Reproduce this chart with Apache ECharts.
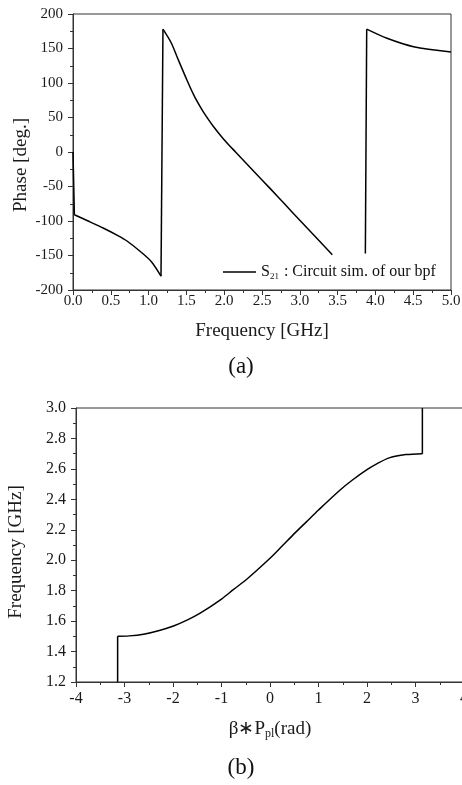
<!DOCTYPE html>
<html><head><meta charset="utf-8">
<script src="https://cdn.jsdelivr.net/npm/echarts@6/dist/echarts.min.js"></script>
<style>html,body{margin:0;padding:0;background:#fff}#c{width:462px;height:785px}</style>
</head><body><div id="c"></div>
<script>
// Panel (a): S21 phase vs frequency
const freqA  = [0, 0.018, 0.2, 0.405, 0.6, 0.714, 0.91, 1.045, 1.164, 1.19, 1.3, 1.376, 1.508, 1.6, 1.68, 1.73, 1.85, 1.99, 2.15, 2.4, 2.6, 2.8, 3.0, 3.2, 3.43, 3.65, 3.867, 3.885, 4.153, 4.505, 5.0];
const phaseA = [0, -91, -100, -110.5, -121.5, -129, -146, -160, -180, 178, 158, 138, 104, 82, 66, 57, 38, 19, 0, -29, -52, -75.5, -99, -122, -149, null, -147, 178, 164.8, 152.6, 145];
const seriesNameA = 'S21 : Circuit sim. of our bpf';
const xTicksA = [0, 5, 0.5];
const yTicksA = [-200, 200, 50];

// Panel (b): dispersion diagram
const betaB = [-3.1416, -3.1416, -2.9, -2.61, -2.3, -1.99, -1.7, -1.44, -1.0, -0.75, -0.48, 0, 0.25, 0.48, 0.75, 1.0, 1.44, 1.7, 2.0, 2.2, 2.47, 2.8, 3.1416, 3.1416];
const freqB = [1.2, 1.5, 1.503, 1.514, 1.537, 1.568, 1.608, 1.652, 1.745, 1.808, 1.875, 2.013, 2.093, 2.168, 2.252, 2.33, 2.46, 2.527, 2.595, 2.633, 2.674, 2.694, 2.70, 3.0];
const xTicksB = [-4, 4, 1];
const yTicksB = [1.2, 3.0, 0.2];

const F = 'Liberation Serif';
const AX = '#333';
const TXT = '#1a1a1a';

// split a polyline into smooth runs and straight steep steps (jumps / verticals)
function splitRuns(xs, ys, steep) {
  const runs = [];
  let cur = [];
  for (let i = 0; i < xs.length; i++) {
    if (ys[i] === null) { if (cur.length > 1) runs.push({smooth: true, pts: cur}); cur = []; continue; }
    if (cur.length) {
      const p = cur[cur.length - 1];
      const dx = xs[i] - p[0], dy = ys[i] - p[1];
      if (dx === 0 || Math.abs(dy / dx) > steep) {
        if (cur.length > 1) runs.push({smooth: true, pts: cur});
        runs.push({smooth: false, pts: [p, [xs[i], ys[i]]]});
        cur = [[xs[i], ys[i]]];
        continue;
      }
    }
    cur.push([xs[i], ys[i]]);
  }
  if (cur.length > 1) runs.push({smooth: true, pts: cur});
  return runs;
}

function axisBase(min, max, interval, fmt, pos, margin, fs) {
  return {
    type: 'value', min: min, max: max, interval: interval, position: pos,
    axisLine: {show: true, onZero: false, lineStyle: {color: AX, width: 1}},
    axisTick: {show: true, inside: false, length: 5, lineStyle: {color: AX}},
    minorTick: {show: true, splitNumber: 2, length: 3, lineStyle: {color: AX}},
    splitLine: {show: false},
    axisLabel: {fontFamily: F, fontSize: fs, color: TXT, margin: margin, formatter: fmt, showMaxLabel: true, showMinLabel: true},
    nameTextStyle: {fontFamily: F, fontSize: 19, color: TXT}
  };
}

const series = [];
splitRuns(freqA, phaseA, 2000).forEach(r => series.push({
  name: seriesNameA, type: 'line', xAxisIndex: 0, yAxisIndex: 0, data: r.pts, symbol: 'none',
  smooth: r.smooth ? 0.3 : false, lineStyle: {color: '#000', width: 1.5}, itemStyle: {color: '#000'}
}));
splitRuns(betaB, freqB, 1000).forEach(r => series.push({
  name: 'dispersion', type: 'line', xAxisIndex: 1, yAxisIndex: 1, data: r.pts, symbol: 'none',
  smooth: r.smooth ? 0.3 : false, lineStyle: {color: '#000', width: 1.5}, itemStyle: {color: '#000'}
}));

const option = {
  backgroundColor: '#fff',
  animation: false,
  grid: [
    {left: 73, right: 11, top: 14, bottom: 495, show: true, borderColor: AX, borderWidth: 1, outerBoundsMode: 'none', containLabel: false},
    {left: 76, right: -2, top: 408, bottom: 103, show: true, borderColor: AX, borderWidth: 1, outerBoundsMode: 'none', containLabel: false}
  ],
  xAxis: [
    Object.assign(axisBase(xTicksA[0], xTicksA[1], xTicksA[2], v => v.toFixed(1), 'bottom', 4, 15),
      {gridIndex: 0, name: 'Frequency [GHz]', nameLocation: 'middle', nameGap: 32}),
    Object.assign(axisBase(xTicksB[0], xTicksB[1], xTicksB[2], v => String(v), 'bottom', 9, 16),
      {gridIndex: 1, name: '{a|β∗P}{s|pl}{a|(rad)}', nameLocation: 'middle', nameGap: 36,
       nameTextStyle: {fontFamily: F, fontSize: 19, color: TXT, rich: {
         a: {fontFamily: F, fontSize: 19, color: TXT},
         s: {fontFamily: F, fontSize: 12, color: TXT, padding: [10, 0, 0, 0]}}}})
  ],
  yAxis: [
    Object.assign(axisBase(yTicksA[0], yTicksA[1], yTicksA[2], v => String(v), 'left', 10, 15),
      {gridIndex: 0}),
    Object.assign(axisBase(yTicksB[0], yTicksB[1], yTicksB[2], v => v.toFixed(1), 'left', 10, 16),
      {gridIndex: 1})
  ],
  title: [
    {text: '(a)', left: 236, top: 350, textAlign: 'center', textStyle: {fontFamily: F, fontSize: 23, fontWeight: 'normal', color: '#111'}},
    {text: '(b)', left: 236, top: 751, textAlign: 'center', textStyle: {fontFamily: F, fontSize: 23, fontWeight: 'normal', color: '#111'}}
  ],
  graphic: [
    {type: 'text', x: 21, y: 165, rotation: Math.PI / 2, style: {text: 'Phase [deg.]', fontFamily: F, fontSize: 19, fill: TXT, align: 'center', verticalAlign: 'middle'}},
    {type: 'text', x: 16, y: 552, rotation: Math.PI / 2, style: {text: 'Frequency [GHz]', fontFamily: F, fontSize: 19, fill: TXT, align: 'center', verticalAlign: 'middle'}}
  ],
  legend: {
    data: [seriesNameA], left: 218, top: 259, itemWidth: 33, itemHeight: 1.5, itemGap: 4, icon: 'rect',
    itemStyle: {color: '#000'},
    formatter: () => '{a|S}{s|21}{a| : Circuit sim. of our bpf}',
    textStyle: {fontFamily: F, fontSize: 16, color: '#111', rich: {
      a: {fontFamily: F, fontSize: 16, color: '#111'},
      s: {fontFamily: F, fontSize: 9, color: '#111', padding: [10, 1, 0, 0]}}}
  },
  series: series
};
const chart = echarts.init(document.getElementById('c'));
chart.setOption(option);
</script>
</body></html>
